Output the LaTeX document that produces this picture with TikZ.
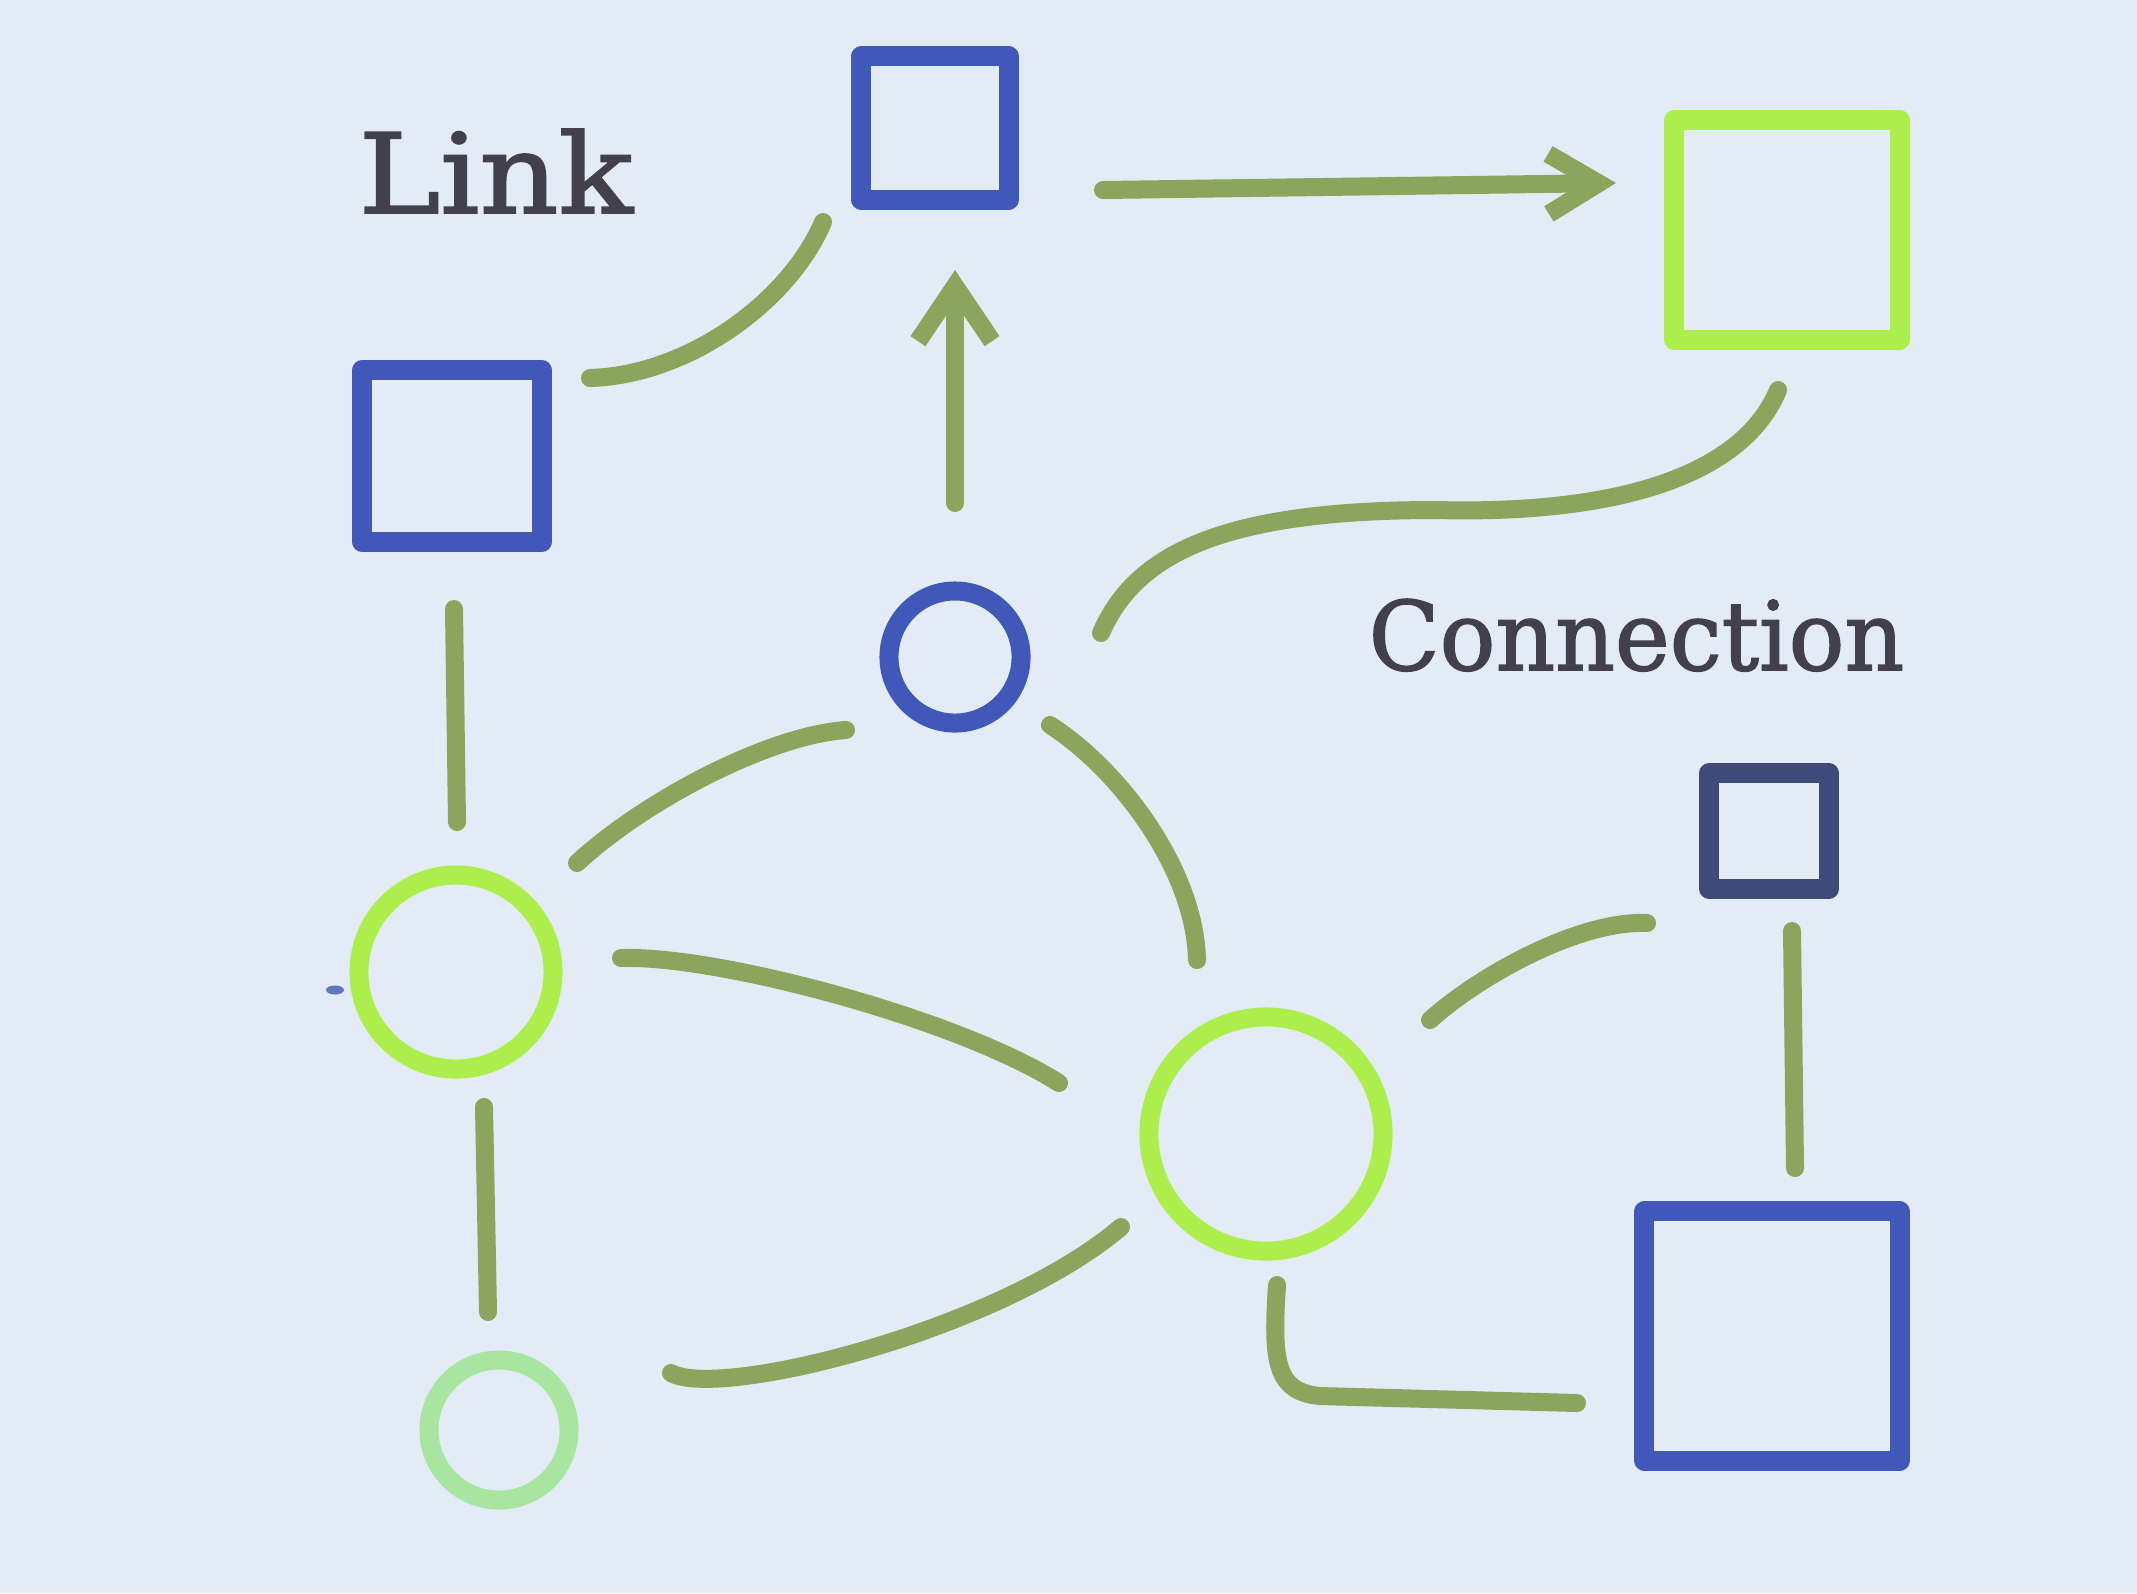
\documentclass[tikz,border=0pt]{standalone}
\usepackage{fontspec}
\setmainfont{DejaVu Serif}
\newfontfamily\lblfont{DejaVu Serif}[FakeBold=1.6]
\usetikzlibrary{calc,arrows.meta}
\definecolor{bg}{HTML}{E3EBF7}
\definecolor{nblue}{HTML}{4058B8}
\definecolor{nlime}{HTML}{ACEF4C}
\definecolor{ngreen}{HTML}{8BA55D}
\definecolor{ndark}{HTML}{404A78}
\definecolor{nmint}{HTML}{A8E6A0}
\definecolor{ntext}{HTML}{42414B}
\tikzset{
  box/.style={draw, rectangle, line width=0.2cm, line join=round, inner sep=0pt},
  ring/.style={draw, circle, line width=0.19cm, inner sep=0pt},
  link/.style={draw=ngreen, line width=0.18cm, line cap=round, line join=round},
  label/.style={text=ntext, inner sep=0pt, anchor=base west, font=\lblfont}
}
\begin{document}
\begin{tikzpicture}[x=0.01cm,y=-0.01cm]
\path[fill=bg] (0,0) rectangle (2137,1593);
\useasboundingbox (0,0) rectangle (2137,1593);

% nodes
\node[box, draw=nblue, minimum width=1.47cm, minimum height=1.43cm] (sqT) at (935,128) {};
\node[box, draw=nlime, minimum width=2.25cm, minimum height=2.19cm] (sqG) at (1787,230) {};
\node[box, draw=nblue, minimum width=1.79cm, minimum height=1.72cm] (sqL) at (452,456) {};
\node[box, draw=ndark, minimum width=1.20cm, minimum height=1.15cm] (sqD) at (1769,831) {};
\node[box, draw=nblue, minimum width=2.55cm, minimum height=2.49cm] (sqB) at (1772,1336) {};
\node[ring, draw=nblue, minimum size=1.32cm] (cM) at (955,657) {};
\node[ring, draw=nlime, minimum size=1.94cm] (cL) at (456,972) {};
\node[ring, draw=nmint, minimum size=1.40cm] (cB) at (499,1430) {};
\node[ring, draw=nlime, minimum size=2.34cm] (cR) at (1266,1134) {};

% labels
\node[label] (lLink) at (358,213) {\resizebox{2.74cm}{0.84cm}{Link}};
\node[label] (lConn) at (1368,670) {\resizebox{5.35cm}{0.71cm}{Connection}};

% stray blue speck
\fill[nblue, opacity=0.8] (335,990) ellipse [x radius=0.09cm, y radius=0.045cm];

% connectors
\draw[link, -{Straight Barb[length=0.5cm, width=0.6cm]}]
  ($(sqT)+(168,62)$) -- ($(sqG)+(-171,-47)$);
\draw[link, -{Straight Barb[length=0.55cm, width=0.74cm]}]
  ($(cM)+(0,-154)$) -- ($(sqT)+(20,142)$);
\draw[link] ($(sqL)+(138,-78)$) .. controls (690,375) and (790,300) .. ($(sqT)+(-112,94)$);
\draw[link] ($(cM)+(146,-24)$) .. controls (1135,555) and (1220,510) .. (1436,510)
  .. controls (1630,515) and (1745,470) .. ($(sqG)+(-9,160)$);
\draw[link] ($(sqL)+(2,153)$) -- ($(cL)+(1,-150)$);
\draw[link] ($(cL)+(121,-109)$) .. controls (645,800) and (770,735) .. ($(cM)+(-109,73)$);
\draw[link] ($(cM)+(95,68)$) .. controls (1120,770) and (1195,870) .. ($(cR)+(-69,-174)$);
\draw[link] ($(cL)+(165,-14)$) .. controls (720,955) and (960,1020) .. ($(cR)+(-207,-51)$);
\draw[link] ($(cL)+(28,135)$) -- ($(cB)+(-11,-118)$);
\draw[link] ($(cB)+(172,-57)$) .. controls (720,1400) and (1000,1330) .. ($(cR)+(-145,93)$);
\draw[link] ($(cR)+(164,-114)$) .. controls (1480,975) and (1580,920) .. ($(sqD)+(-122,92)$);
\draw[link] ($(sqD)+(23,100)$) -- ($(sqB)+(23,-168)$);
\draw[link] ($(cR)+(11,151)$) .. controls (1272,1360) and (1275,1392) .. (1320,1396)
  -- ($(sqB)+(-195,67)$);
\end{tikzpicture}
\end{document}
